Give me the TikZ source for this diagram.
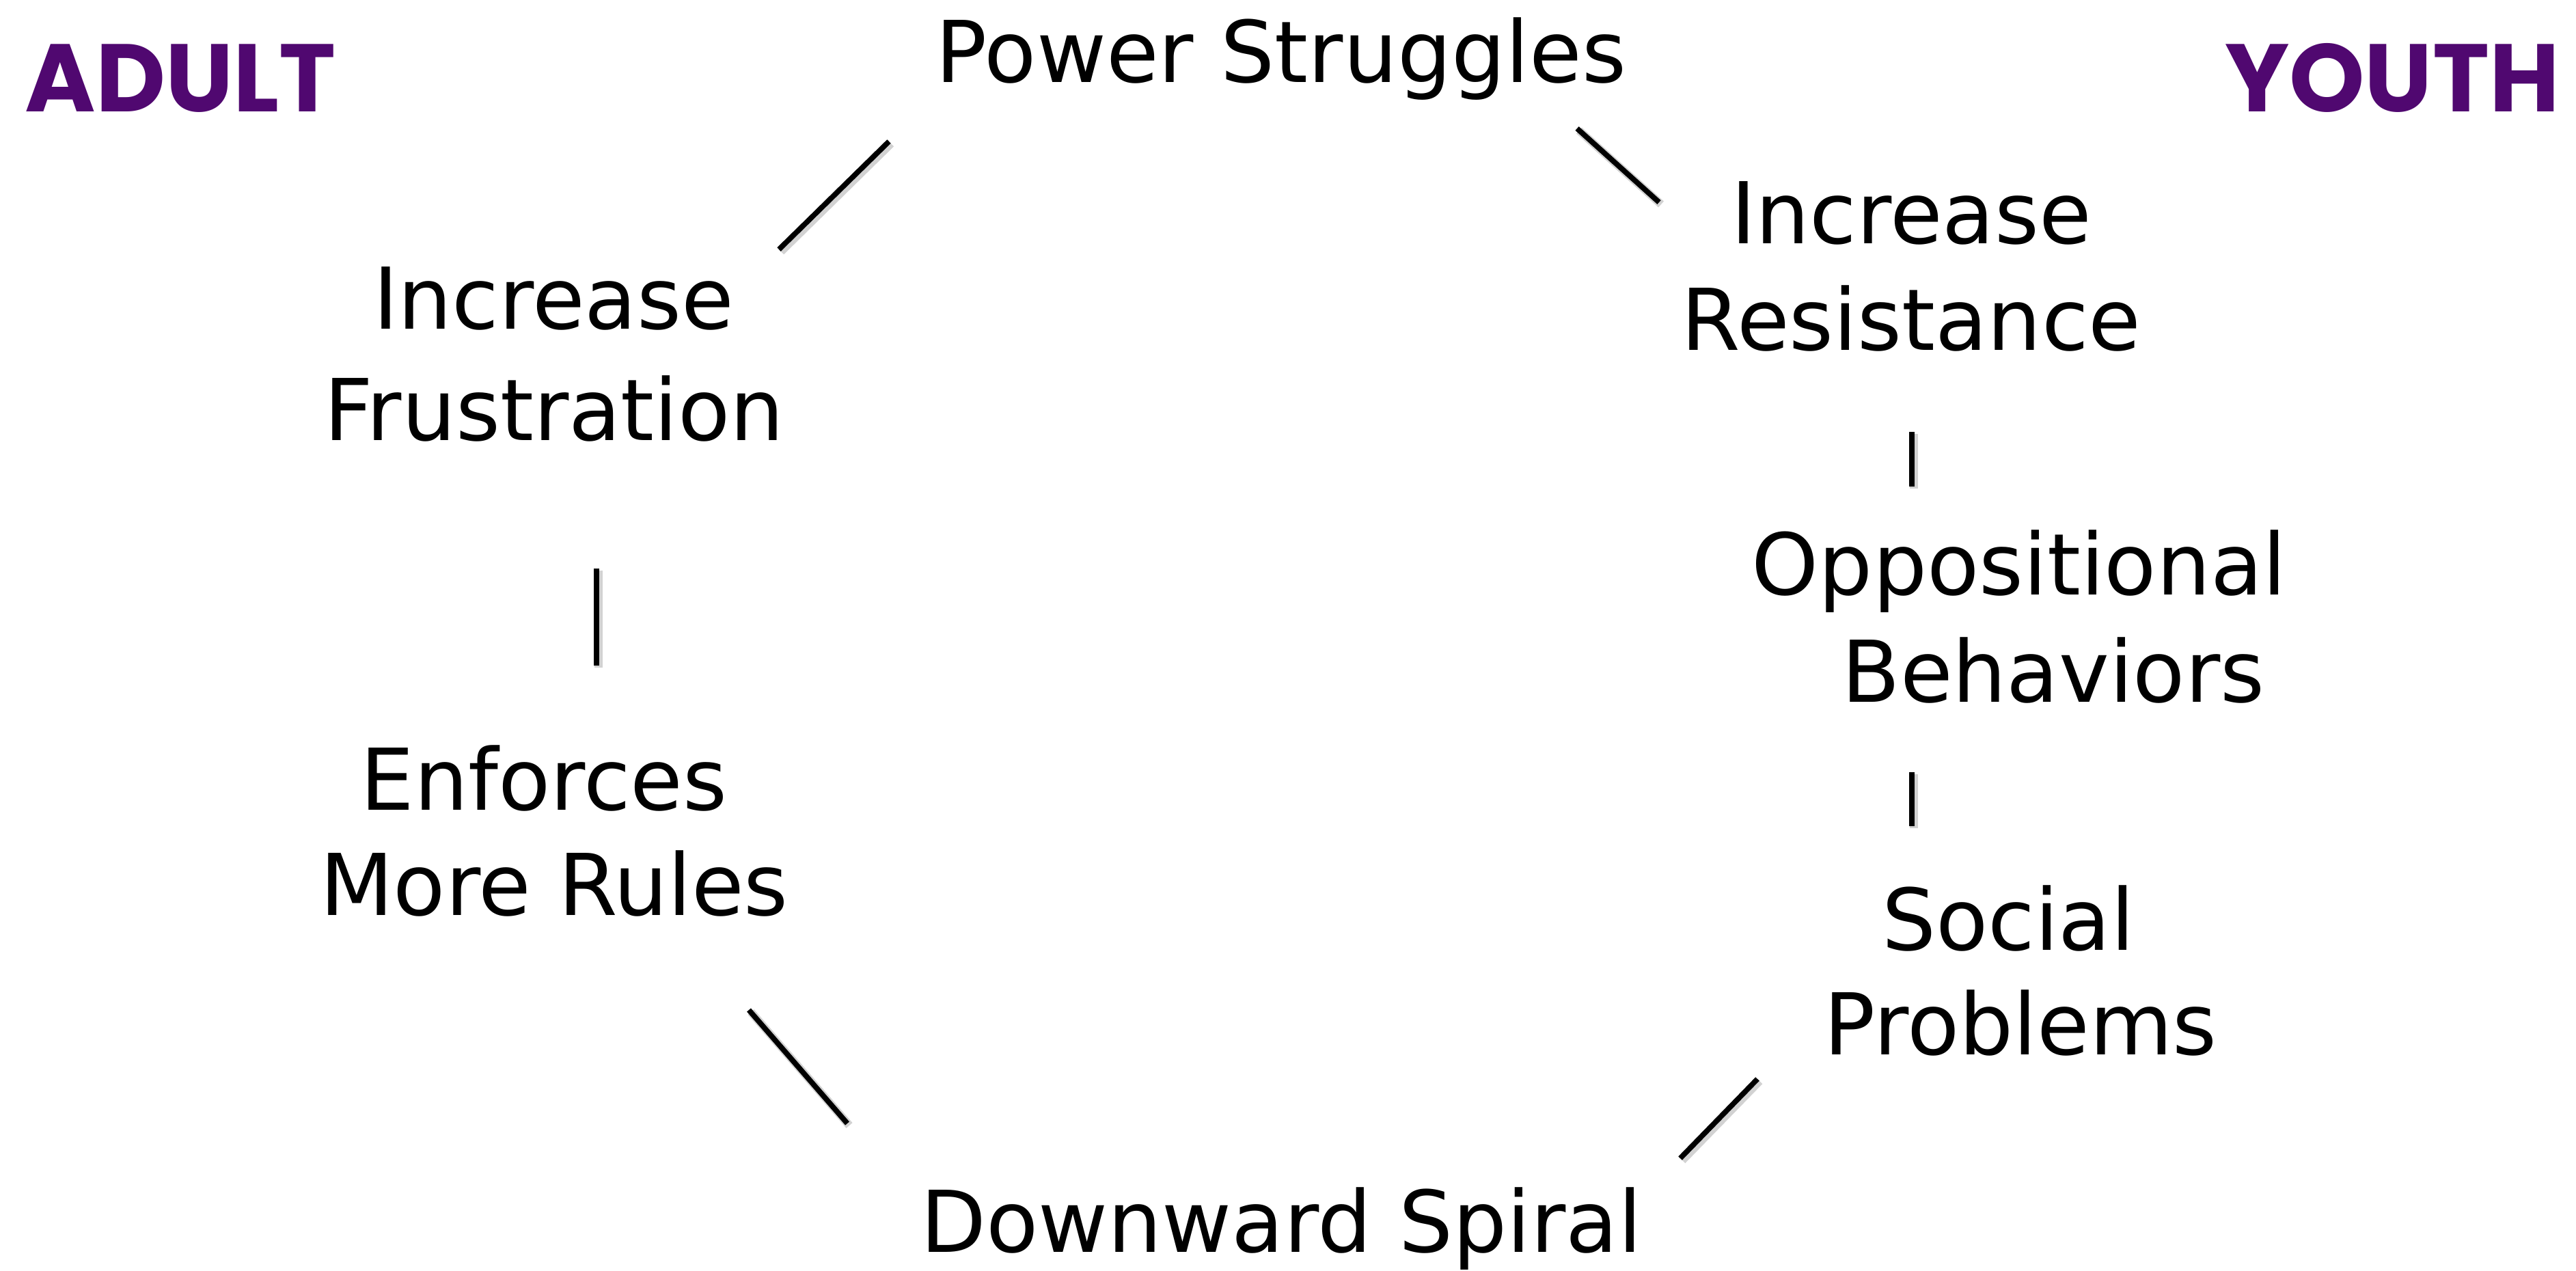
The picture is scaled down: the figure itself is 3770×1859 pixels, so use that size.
\documentclass[tikz,border=0pt]{standalone}
\usepackage{fontspec}
\setmainfont{DejaVu Sans}
\newfontfamily\headfont{Poppins Bold}
\definecolor{hdpurple}{RGB}{80,8,112}
\tikzset{
  lbl/.style={anchor=base, inner sep=0pt, font=\fontsize{35.5}{44}\selectfont},
  side/.style={anchor=base, inner sep=0pt, text=hdpurple, font=\headfont\fontsize{40}{48}\selectfont},
  linkshadow/.style={draw=black!35, line width=3.4pt, opacity=0.5},
  link/.style={draw=black, line width=2.2pt},
}
\begin{document}
\begin{tikzpicture}[x=0.1mm, y=-0.1mm]
\useasboundingbox[fill=white] (0,0) rectangle (3770,1859);
% side titles
\node[side] (adult) at (264,163) {ADULT};
\node[side] (youth) at (3501,163) {YOUTH};
% labels
\node[lbl] (power) at (1875,120) {Power Struggles};
\node[lbl] (incF1) at (810,481) {Increase};
\node[lbl] (incF2) at (811,644) {Frustration};
\node[lbl] (incR1) at (2797,356) {Increase};
\node[lbl] (incR2) at (2797,512) {Resistance};
\node[lbl] (opp1) at (2955,870) {Oppositional};
\node[lbl] (opp2) at (3005,1027) {Behaviors};
\node[lbl] (soc1) at (2939,1390) {Social};
\node[lbl] (soc2) at (2957,1543) {Problems};
\node[lbl] (enf1) at (796,1185) {Enforces};
\node[lbl] (enf2) at (811,1339) {More Rules};
\node[lbl] (down) at (1875,1832) {Downward Spiral};
% connector end points
\coordinate (c1a) at (1140,365);  \coordinate (c1b) at (1301,207);
\coordinate (c2a) at (2308,188);  \coordinate (c2b) at (2428,296);
\coordinate (c3a) at (873,832);   \coordinate (c3b) at (873,974);
\coordinate (c4a) at (2798,632);  \coordinate (c4b) at (2798,712);
\coordinate (c5a) at (2798,1130); \coordinate (c5b) at (2798,1209);
\coordinate (c6a) at (1096,1478); \coordinate (c6b) at (1240,1644);
\coordinate (c7a) at (2572,1579); \coordinate (c7b) at (2459,1695);
% shadows
\foreach \a/\b in {c1a/c1b,c2a/c2b,c3a/c3b,c4a/c4b,c5a/c5b,c6a/c6b,c7a/c7b}{
  \draw[linkshadow] ([shift={(3,3)}]\a) -- ([shift={(3,3)}]\b);
}
% connectors
\foreach \a/\b in {c1a/c1b,c2a/c2b,c3a/c3b,c4a/c4b,c5a/c5b,c6a/c6b,c7a/c7b}{
  \draw[link] (\a) -- (\b);
}
\end{tikzpicture}
\end{document}
